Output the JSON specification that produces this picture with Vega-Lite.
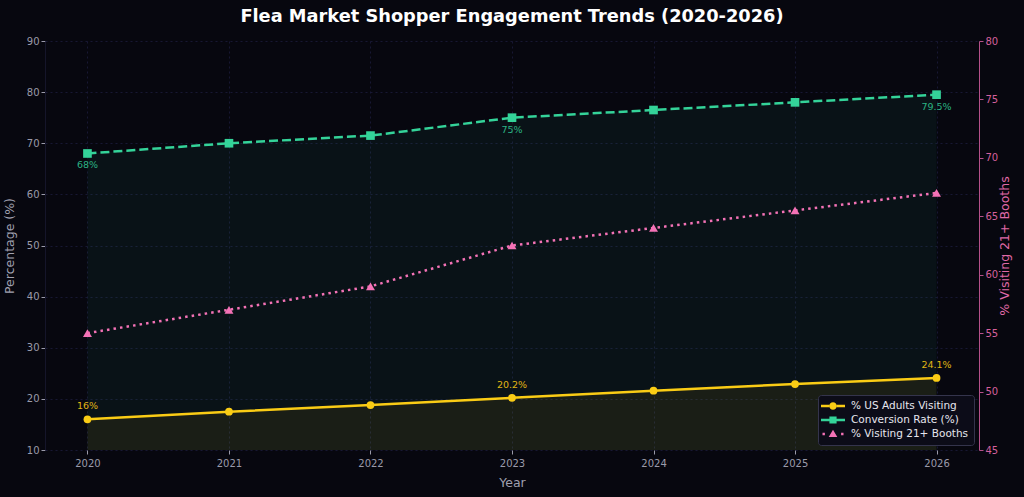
{
  "$schema": "https://vega.github.io/schema/vega-lite/v6.json",
  "width": 1024,
  "height": 497,
  "autosize": {"type": "fit", "contains": "padding"},
  "padding": {"left": 3, "right": 12, "top": 8, "bottom": 8},
  "background": "#07070f",
  "title": {
    "text": "Flea Market Shopper Engagement Trends (2020-2026)",
    "fontSize": 17.8,
    "font": "DejaVu Sans",
    "fontWeight": "bold",
    "color": "#ffffff",
    "anchor": "middle",
    "offset": 10
  },
  "config": {
    "view": {"stroke": null, "fill": "#07070f"},
    "font": "DejaVu Sans",
    "axis": {
      "labelFont": "DejaVu Sans",
      "titleFont": "DejaVu Sans",
      "labelColor": "#9a9aaa",
      "labelFontSize": 10,
      "titleColor": "#a0a0b0",
      "titleFontSize": 12.5,
      "titleFontWeight": "normal",
      "tickColor": "#9a9aaa",
      "tickSize": 4,
      "domain": false,
      "gridColor": "#1c1c3c",
      "gridDash": [2, 3],
      "gridWidth": 0.8
    },
    "legend": {
      "orient": "bottom-right",
      "offset": 5,
      "labelFont": "DejaVu Sans",
      "labelColor": "#e6e6ee",
      "labelFontSize": 10.5,
      "fillColor": "#0c0c18",
      "strokeColor": "#34344c",
      "cornerRadius": 3,
      "padding": 5,
      "rowPadding": 2,
      "symbolSize": 144,
      "symbolOffset": 4,
      "labelOffset": 12,
      "symbolStrokeWidth": 0
    }
  },
  "datasets": {
    "d": [
      {"year": 2020, "series": "% US Adults Visiting", "value": 16, "label": "16%"},
      {"year": 2021, "series": "% US Adults Visiting", "value": 17.5, "label": ""},
      {"year": 2022, "series": "% US Adults Visiting", "value": 18.8, "label": ""},
      {"year": 2023, "series": "% US Adults Visiting", "value": 20.2, "label": "20.2%"},
      {"year": 2024, "series": "% US Adults Visiting", "value": 21.6, "label": ""},
      {"year": 2025, "series": "% US Adults Visiting", "value": 22.9, "label": ""},
      {"year": 2026, "series": "% US Adults Visiting", "value": 24.1, "label": "24.1%"},
      {"year": 2020, "series": "Conversion Rate (%)", "value": 68, "label": "68%"},
      {"year": 2021, "series": "Conversion Rate (%)", "value": 70, "label": ""},
      {"year": 2022, "series": "Conversion Rate (%)", "value": 71.5, "label": ""},
      {"year": 2023, "series": "Conversion Rate (%)", "value": 75, "label": "75%"},
      {"year": 2024, "series": "Conversion Rate (%)", "value": 76.5, "label": ""},
      {"year": 2025, "series": "Conversion Rate (%)", "value": 78, "label": ""},
      {"year": 2026, "series": "Conversion Rate (%)", "value": 79.5, "label": "79.5%"},
      {"year": 2020, "series": "% Visiting 21+ Booths", "value": 55, "label": ""},
      {"year": 2021, "series": "% Visiting 21+ Booths", "value": 57, "label": ""},
      {"year": 2022, "series": "% Visiting 21+ Booths", "value": 59, "label": ""},
      {"year": 2023, "series": "% Visiting 21+ Booths", "value": 62.5, "label": ""},
      {"year": 2024, "series": "% Visiting 21+ Booths", "value": 64, "label": ""},
      {"year": 2025, "series": "% Visiting 21+ Booths", "value": 65.5, "label": ""},
      {"year": 2026, "series": "% Visiting 21+ Booths", "value": 67, "label": ""}
    ],
    "src": [{"text": "Source: Flea Market Industry Reports"}]
  },
  "data": {"name": "d"},
  "encoding": {
    "x": {
      "field": "year",
      "type": "quantitative",
      "scale": {"domain": [2019.7, 2026.3], "nice": false, "zero": false},
      "axis": {
        "title": "Year",
        "values": [2020, 2021, 2022, 2023, 2024, 2025, 2026],
        "format": "d",
        "labelPadding": 4,
        "titlePadding": 8
      }
    },
    "color": {
      "field": "series",
      "type": "nominal",
      "title": null,
      "scale": {
        "domain": ["% US Adults Visiting", "Conversion Rate (%)", "% Visiting 21+ Booths"],
        "range": ["#facc15", "#34d399", "#f472b6"]
      }
    }
  },
  "layer": [
    {
      "encoding": {
        "y": {
          "field": "value",
          "type": "quantitative",
          "scale": {"domain": [10, 90], "nice": false, "zero": false},
          "axis": {
            "title": "Percentage (%)",
            "values": [10, 20, 30, 40, 50, 60, 70, 80, 90],
            "domain": true,
            "domainColor": "#15152a",
            "titlePadding": 10
          }
        }
      },
      "layer": [
        {
          "transform": [{"filter": "datum.series === 'Conversion Rate (%)'"}],
          "mark": {"type": "area", "color": "#34d399", "opacity": 0.06},
          "encoding": {"y2": {"datum": 10}, "color": {"value": "#34d399"}}
        },
        {
          "transform": [{"filter": "datum.series === '% US Adults Visiting'"}],
          "mark": {"type": "area", "color": "#facc15", "opacity": 0.07},
          "encoding": {"y2": {"datum": 10}, "color": {"value": "#facc15"}}
        },
        {
          "transform": [{"filter": "datum.series === 'Conversion Rate (%)'"}],
          "mark": {"type": "line", "strokeWidth": 2.5, "strokeDash": [9, 4]}
        },
        {
          "transform": [{"filter": "datum.series === '% US Adults Visiting'"}],
          "mark": {"type": "line", "strokeWidth": 2.5}
        },
        {
          "transform": [{"filter": "datum.series === 'Conversion Rate (%)'"}],
          "mark": {"type": "point", "filled": true, "size": 75, "opacity": 1, "shape": "square"}
        },
        {
          "transform": [{"filter": "datum.series === '% US Adults Visiting'"}],
          "mark": {"type": "point", "filled": true, "size": 60, "opacity": 1, "shape": "circle"}
        },
        {
          "transform": [{"filter": "false"}],
          "mark": {"type": "point", "filled": true, "opacity": 1},
          "encoding": {
            "shape": {
              "field": "series",
              "type": "nominal",
              "title": null,
              "scale": {
                "domain": ["% US Adults Visiting", "Conversion Rate (%)", "% Visiting 21+ Booths"],
                "range": [
                  "M-2,-0.2H-0.62V0.2H-2Z M0.62,-0.2H2V0.2H0.62Z M-0.62,0A0.62,0.62 0 1,0 0.62,0A0.62,0.62 0 1,0 -0.62,0Z",
                  "M-2,-0.2H-0.6V0.2H-2Z M0.6,-0.2H2V0.2H0.6Z M-0.6,-0.6H0.6V0.6H-0.6Z",
                  "M-1.75,-0.2H-1.35V0.2H-1.75Z M1.35,-0.2H1.75V0.2H1.35Z M0,-0.72L0.72,0.52L-0.72,0.52Z"
                ]
              }
            }
          }
        },
        {
          "transform": [{"filter": "datum.series === '% US Adults Visiting' && datum.label !== ''"}],
          "mark": {"type": "text", "dy": -13, "fontSize": 9.5},
          "encoding": {"text": {"field": "label"}, "color": {"value": "#e0b614"}}
        },
        {
          "transform": [{"filter": "datum.series === 'Conversion Rate (%)' && datum.label !== ''"}],
          "mark": {"type": "text", "dy": 12, "fontSize": 9.5},
          "encoding": {"text": {"field": "label"}, "color": {"value": "#2bb384"}}
        },
        {
          "data": {"name": "src"},
          "mark": {"type": "text", "align": "right", "baseline": "middle", "fontStyle": "italic", "fontSize": 10},
          "encoding": {
            "x": {"datum": 2026.23},
            "y": {"datum": 12.7},
            "text": {"field": "text"},
            "color": {"value": "#34365a"}
          }
        }
      ]
    },
    {
      "transform": [{"filter": "datum.series === '% Visiting 21+ Booths'"}],
      "encoding": {
        "y": {
          "field": "value",
          "type": "quantitative",
          "scale": {"domain": [45, 80], "nice": false, "zero": false},
          "axis": {
            "orient": "right",
            "title": "% Visiting 21+ Booths",
            "values": [45, 50, 55, 60, 65, 70, 75, 80],
            "grid": false,
            "domain": true,
            "domainColor": "#b5508a",
            "tickColor": "#b5508a",
            "labelColor": "#d5609c",
            "titleColor": "#e06aa8",
            "titleAngle": 270,
            "titleBaseline": "bottom",
            "titlePadding": 14
          }
        }
      },
      "layer": [
        {
          "mark": {"type": "line", "strokeWidth": 2.5, "strokeDash": [2.5, 4.1]}
        },
        {
          "mark": {"type": "point", "filled": true, "size": 80, "opacity": 1, "shape": "triangle-up"}
        }
      ]
    }
  ],
  "resolve": {"scale": {"y": "independent"}, "axis": {"y": "independent"}}
}
